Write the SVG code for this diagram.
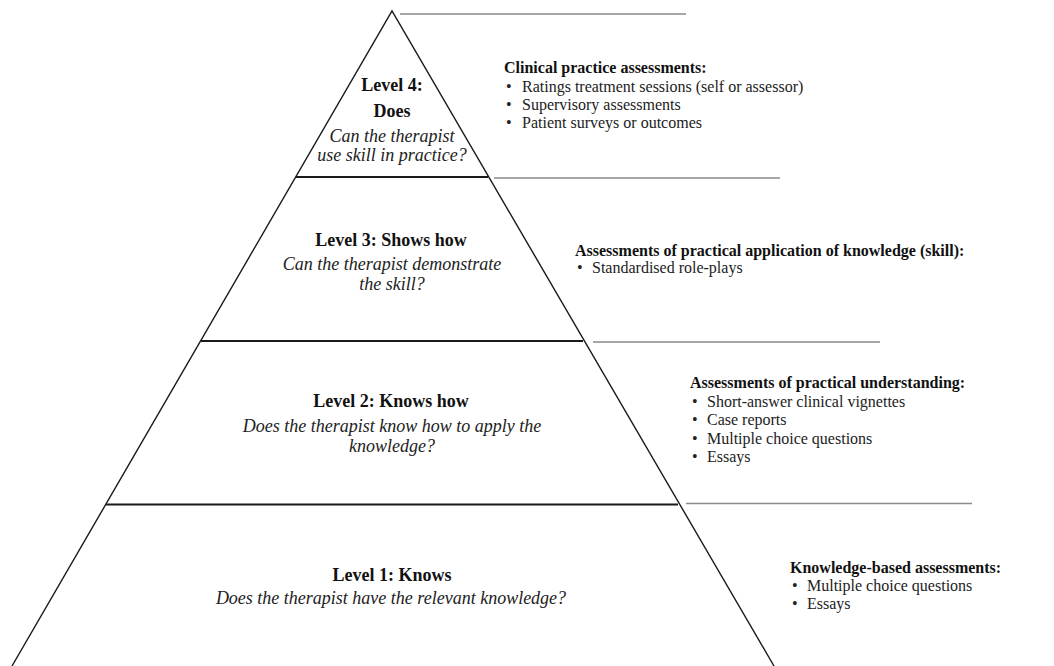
<svg xmlns="http://www.w3.org/2000/svg" width="1054" height="666" viewBox="0 0 1054 666">
  <style>
    .edge { stroke: #1a1a1a; stroke-width: 1.4; fill: none; }
    .tier { stroke: #1a1a1a; stroke-width: 1.8; }
    .ext { stroke: #8a8a8a; stroke-width: 1.6; }
    .t { font-family: "Liberation Serif", "Times New Roman", serif; fill: #111; }
    .lvl { font-size: 18px; font-weight: bold; text-anchor: middle; }
    .q { font-size: 18px; font-style: italic; text-anchor: middle; fill: #222; }
    .hd { font-size: 16px; font-weight: bold; }
    .it { font-size: 16px; fill: #222; }
  </style>
  <rect width="1054" height="666" fill="#ffffff"/>

  <g id="pyramid">
    <polyline class="edge" points="12,666 392,11 774,666"/>
    <line class="tier" x1="296" y1="177" x2="488" y2="177"/>
    <line class="tier" x1="201" y1="341" x2="583" y2="341"/>
    <line class="tier" x1="106" y1="504.5" x2="678" y2="504.5"/>
  </g>

  <g id="connectors">
    <line class="ext" x1="400" y1="14" x2="686" y2="14"/>
    <line class="ext" x1="494" y1="178" x2="780" y2="178"/>
    <line class="ext" x1="593" y1="342" x2="880" y2="342"/>
    <line class="ext" x1="686" y1="503.5" x2="972" y2="503.5"/>
  </g>

  <g id="level4">
    <text class="t lvl" x="392" y="91">Level 4:</text>
    <text class="t lvl" x="392" y="117">Does</text>
    <text class="t q" x="392" y="142">Can the therapist</text>
    <text class="t q" x="392" y="161">use skill in practice?</text>
  </g>
  <g id="level3">
    <text class="t lvl" x="391" y="246">Level 3: Shows how</text>
    <text class="t q" x="392" y="270">Can the therapist demonstrate</text>
    <text class="t q" x="392" y="290">the skill?</text>
  </g>
  <g id="level2">
    <text class="t lvl" x="391" y="407">Level 2: Knows how</text>
    <text class="t q" x="392" y="432">Does the therapist know how to apply the</text>
    <text class="t q" x="392" y="452">knowledge?</text>
  </g>
  <g id="level1">
    <text class="t lvl" x="392" y="581">Level 1: Knows</text>
    <text class="t q" x="391" y="604">Does the therapist have the relevant knowledge?</text>
  </g>

  <g id="assess4">
    <text class="t hd" x="504" y="73">Clinical practice assessments:</text>
    <text class="t it" x="506" y="92">•</text><text class="t it" x="522" y="92">Ratings treatment sessions (self or assessor)</text>
    <text class="t it" x="506" y="110">•</text><text class="t it" x="522" y="110">Supervisory assessments</text>
    <text class="t it" x="506" y="128">•</text><text class="t it" x="522" y="128">Patient surveys or outcomes</text>
  </g>
  <g id="assess3">
    <text class="t hd" x="575" y="256">Assessments of practical application of knowledge (skill):</text>
    <text class="t it" x="577" y="273">•</text><text class="t it" x="592" y="273">Standardised role-plays</text>
  </g>
  <g id="assess2">
    <text class="t hd" x="690" y="388">Assessments of practical understanding:</text>
    <text class="t it" x="692" y="407">•</text><text class="t it" x="707" y="407">Short-answer clinical vignettes</text>
    <text class="t it" x="692" y="425">•</text><text class="t it" x="707" y="425">Case reports</text>
    <text class="t it" x="692" y="444">•</text><text class="t it" x="707" y="444">Multiple choice questions</text>
    <text class="t it" x="692" y="462">•</text><text class="t it" x="707" y="462">Essays</text>
  </g>
  <g id="assess1">
    <text class="t hd" x="790" y="573">Knowledge-based assessments:</text>
    <text class="t it" x="792" y="591">•</text><text class="t it" x="807" y="591">Multiple choice questions</text>
    <text class="t it" x="792" y="609">•</text><text class="t it" x="807" y="609">Essays</text>
  </g>
</svg>
